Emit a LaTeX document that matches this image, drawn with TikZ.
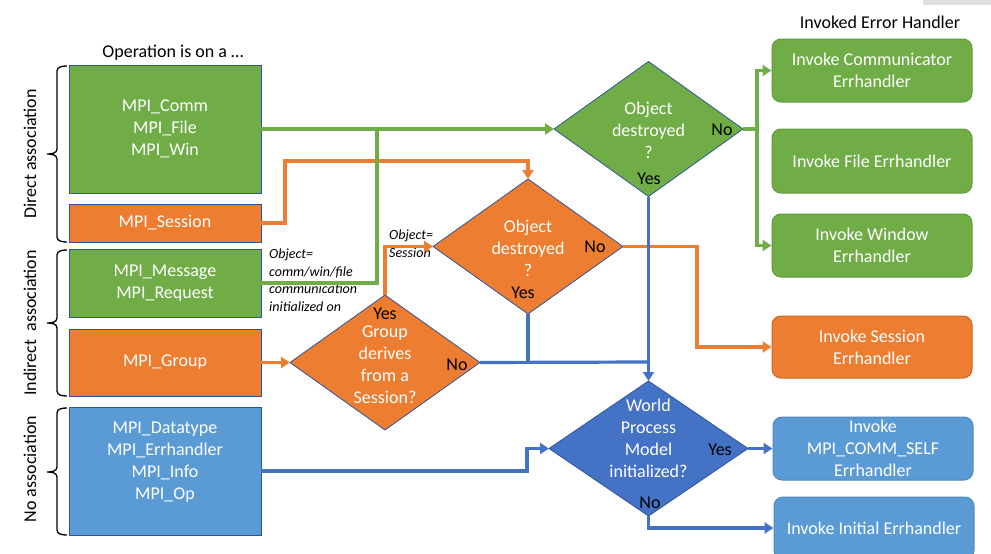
\documentclass[tikz,border=0pt]{standalone}
\usepackage{fontspec}
\setmainfont{Carlito}
\usetikzlibrary{shapes.geometric,arrows.meta}
\definecolor{cgreen}{HTML}{70AD47}
\definecolor{corange}{HTML}{ED7D31}
\definecolor{cblue}{HTML}{5B9BD5}
\definecolor{cdblue}{HTML}{4472C4}
\definecolor{cedge}{HTML}{2F5597}
\definecolor{cgreenedge}{HTML}{5E9A3A}
\definecolor{corangeedge}{HTML}{C8651F}
\definecolor{cblueedge}{HTML}{4F88C0}
\tikzset{
  every node/.style={font=\fontsize{18}{22}\selectfont},
  lbox/.style={draw=cedge, line width=0.8pt, minimum width=192pt, inner sep=0pt, text=white, align=center},
  rbox/.style={rounded corners=9pt, line width=1pt, minimum width=200pt, inner sep=0pt, text=white, align=center},
  dia/.style={shape=diamond, draw=cedge, line width=0.8pt, inner sep=0pt, outer sep=0pt, minimum width=190pt, minimum height=135pt},
  wtext/.style={text=white, align=center, inner sep=0pt},
  btext/.style={text=black, inner sep=0pt},
  itext/.style={text=black, align=left, inner sep=0pt, anchor=north west, font=\fontsize{14}{17.5}\selectfont\itshape},
  arr/.style={-{Triangle[length=9pt,width=11pt]}},
  gline/.style={line width=3.2pt, draw=cgreen},
  oline/.style={line width=3.2pt, draw=corange},
  bline/.style={line width=3.2pt, draw=cdblue},
  bracegroup/.style={line width=1.3pt, draw=black},
}
\begin{document}
\begin{tikzpicture}[x=1pt,y=-1pt]
\useasboundingbox (0,0) rectangle (991,554);
\fill[gray!25] (923,0) rectangle (991,5);

% headings
\node[btext] (h1) at (173,53) {Operation is on a …};
\node[btext] (h2) at (880,22) {Invoked Error Handler};

% braces
\draw[bracegroup] (67,66) to[out=180,in=90] (57,71) -- (57,149) to[out=-90,in=0] (47,154) to[out=0,in=90] (57,159) -- (57,237) to[out=-90,in=180] (67,242);
\draw[bracegroup] (67,250) to[out=180,in=90] (57,255) -- (57,318) to[out=-90,in=0] (47,323) to[out=0,in=90] (57,328) -- (57,391) to[out=-90,in=180] (67,396);
\draw[bracegroup] (67,408) to[out=180,in=90] (57,413) -- (57,467) to[out=-90,in=0] (47,472) to[out=0,in=90] (57,477) -- (57,530) to[out=-90,in=180] (67,535);
\node[btext, rotate=90] (l1) at (30,154) {Direct association};
\node[btext, rotate=90] (l2) at (30,323) {Indirect \ association};
\node[btext, rotate=90] (l3) at (30,469) {No association};

% left boxes
\node[lbox, fill=cgreen, minimum height=128pt] (b1) at (165,129) {MPI\_Comm\\MPI\_File\\MPI\_Win};
\node[lbox, fill=corange, minimum height=38pt] (b2) at (165,223) {MPI\_Session};
\node[lbox, fill=cgreen, minimum height=68pt] (b3) at (165,283) {MPI\_Message\\MPI\_Request};
\node[lbox, fill=corange, minimum height=67pt] (b4) at (165,362.5) {MPI\_Group};
\node[lbox, fill=cblue, minimum height=128pt] (b5) at (165,471) {};
\node[wtext] (b5t) at (165,462) {MPI\_Datatype\\MPI\_Errhandler\\MPI\_Info\\MPI\_Op};

% right boxes
\node[rbox, fill=cgreen, draw=cgreenedge, minimum height=63pt] (r1) at (872,70.5) {Invoke Communicator\\Errhandler};
\node[rbox, fill=cgreen, draw=cgreenedge, minimum height=64pt] (r2) at (872,161) {Invoke File Errhandler};
\node[rbox, fill=cgreen, draw=cgreenedge, minimum height=63pt] (r3) at (872,245.5) {Invoke Window\\Errhandler};
\node[rbox, fill=corange, draw=corangeedge, minimum height=62pt] (r4) at (872,347) {Invoke Session\\Errhandler};
\node[rbox, fill=cblue, draw=cblueedge, minimum height=63pt] (r5) at (873,448.5) {Invoke\\MPI\_COMM\_SELF\\Errhandler};
\node[rbox, fill=cblue, draw=cblueedge, minimum height=62pt] (r6) at (874,528) {Invoke Initial Errhandler};

% diamonds
\node[dia, fill=cgreen, minimum width=189pt] (d1) at (648.5,129) {};
\node[wtext] (d1t) at (648.5,130) {Object\\destroyed\\?};
\node[btext] (d1no) at (722,130) {No};
\node[btext] (d1yes) at (649,179) {Yes};

\node[dia, fill=corange] (d2) at (528,246.5) {};
\node[wtext] (d2t) at (528,248) {Object\\destroyed\\?};
\node[btext] (d2no) at (595,247) {No};
\node[btext] (d2yes) at (523,293) {Yes};

\node[dia, fill=corange] (d3) at (385,362.5) {};
\node[wtext] (d3t) at (385,365) {Group\\derives\\from a\\Session?};
\node[btext] (d3yes) at (385,314) {Yes};
\node[btext] (d3no) at (457,365) {No};

\node[dia, fill=cdblue, minimum width=199pt] (d4) at (648.5,448.5) {};
\node[wtext] (d4t) at (648.5,438.5) {World\\Process\\Model\\initialized?};
\node[btext] (d4yes) at (720,450) {Yes};
\node[btext] (d4no) at (650,503) {No};

% italic labels
\node[itext] (i1) at (269,249) {Object=\\comm/win/file\\communication\\initialized on};
\node[itext] (i2) at (389,230) {Object=\\Session};

% junction coordinates
\coordinate (o1) at (285,161);
\coordinate (o2) at (697,300);
\coordinate (gj) at (377,129);
\coordinate (gt) at (757,129);
\coordinate (bj) at (648,362);
\coordinate (bb) at (527,460);

% orange connectors
\draw[oline, arr] (b2.east) -| (o1) -| (d2.north);
\draw[oline, arr] (b4.east) -- (d3.west);
\draw[oline, arr] (d3.north) |- (d2.west);
\draw[oline, arr] (d2.east) -| (o2) |- (r4.west);

% green connectors
\draw[gline, arr] (b1.east) -- (d1.west);
\draw[gline] (b3.east) -| (gj);
\draw[gline] (d1.east) -- (gt);
\draw[gline, arr] (gt) |- (r1.west);
\draw[gline, arr] (gt) |- (r3.west);

% blue connectors
\draw[bline, arr] (d1.south) -- (d4.north);
\draw[bline] (d3.east) -- (bj);
\draw[bline] (d2.south) -- (d2.south |- bj);
\draw[bline, arr] (b5.east) -| (bb) |- (d4.west);
\draw[bline, arr] (d4.east) -- (r5.west);
\draw[bline, arr] (d4.south) |- (r6.west);
\end{tikzpicture}
\end{document}
